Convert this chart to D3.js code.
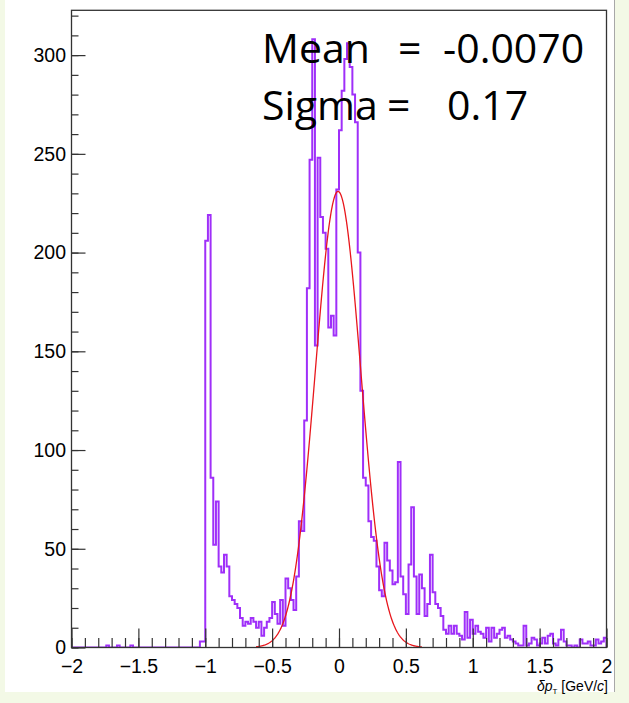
<!DOCTYPE html>
<html><head><meta charset="utf-8">
<script src="https://cdn.jsdelivr.net/npm/d3@7/dist/d3.min.js"></script>
<style>body{margin:0;background:#f3f9e6}svg{display:block}</style>
</head><body><svg id="c" width="629" height="703"></svg>
<script>
// ---- data ----
const binLow = -2, binWidth = 0.02;
const counts = [
 0,0,0,0,0,0,0,0,0,0, 0,0,0,1,0,0,0,1,0,0, 0,0,1,0,0,0,0,0,0,0,
 0,0,0,0,0,0,0,0,0,0, 0,0,0,0,0,0,0,0,3,3,
 206,219,86,52,74,41,38,47,41,26, 24,22,20,15,11,13,12,15,13,10,
 13,6,10,13,15,23,17,12,24,11, 35,30,24,19,36,64,59,115,182,247,
 308,153,248,218,210,202,162,168,158,232, 262,282,298,306,294,280,266,200,130,86,
 82,64,56,54,41,29,26,53,44,39, 32,33,94,36,27,17,42,71,36,17,
 37,30,16,22,47,28,22,20,16,9, 7,11,7,11,7,6,4,18,5,14,
 7,11,8,7,5,10,3,10,5,7, 9,10,5,6,4,3,2,1,1,11,
 1,2,5,4,1,2,5,2,6,7, 2,1,4,9,3,1,1,0,1,0,
 4,2,2,3,1,1,4,2,3,5
];
const xTicks = [-2,-1.5,-1,-0.5,0,0.5,1,1.5,2];
const xTickLabels = ["\u22122","\u22121.5","\u22121","\u22120.5","0","0.5","1","1.5","2"];
const yTicks = [0,50,100,150,200,250,300];
const yTickLabels = ["0","50","100","150","200","250","300"];
const fitMean = -0.0070, fitSigma = 0.17, fitAmplitude = 231;
const fitRange = [-0.62, 0.62];
const statNames = ["Mean","Sigma"];
const statValues = ["-0.0070","0.17"];

// ---- drawing ----
const svg = d3.select("#c");
svg.append("rect").attr("x",0).attr("y",0).attr("width",629).attr("height",703).attr("fill","#f3f9e6");
svg.append("rect").attr("x",5).attr("y",0).attr("width",609.5).attr("height",692).attr("fill","#ffffff");
svg.append("line").attr("x1",614.5).attr("x2",614.5).attr("y1",0).attr("y2",692).attr("stroke","#a8a8a8").attr("stroke-width",1);

const X0=71.5, X1=606.5, Y0=647.5, Y1=10.3;
const x = d3.scaleLinear().domain([-2,2]).range([X0,X1]);
const y = d3.scaleLinear().domain([0,322.7]).range([Y0,Y1]);

svg.append("clipPath").attr("id","pc").append("rect")
  .attr("x",X0).attr("y",Y1).attr("width",X1-X0).attr("height",Y0-Y1);

// histogram outline
const pts = [[binLow,0]];
counts.forEach((c,i)=>{
  const lo = binLow + i*binWidth, hi = lo + binWidth;
  pts.push([lo,c],[hi,c]);
});
pts.push([binLow+counts.length*binWidth,0]);
svg.append("path").attr("clip-path","url(#pc)")
  .attr("d", d3.line().x(d=>x(d[0])).y(d=>y(d[1]))(pts))
  .attr("fill","none").attr("stroke","#9f2ff9").attr("stroke-width",2);

// gaussian fit
const gx = d3.range(fitRange[0], fitRange[1]+1e-9, 0.004);
const gpts = gx.map(v=>[v, fitAmplitude*Math.exp(-0.5*Math.pow((v-fitMean)/fitSigma,2))]);
svg.append("path").attr("clip-path","url(#pc)")
  .attr("d", d3.line().x(d=>x(d[0])).y(d=>y(d[1]))(gpts))
  .attr("fill","none").attr("stroke","#e8161c").attr("stroke-width",1.3);

// frame
svg.append("rect").attr("x",X0).attr("y",Y1).attr("width",X1-X0).attr("height",Y0-Y1)
  .attr("fill","none").attr("stroke","#333").attr("stroke-width",1.3);

const font = "'Liberation Sans', Arial, Helvetica, sans-serif";
const xMinor = svg.append("g").attr("transform",`translate(0,${Y0})`)
  .call(d3.axisBottom(x).tickValues(d3.range(-20,21).map(v=>v/10)).tickSize(-9.5).tickFormat(""));
const xMajor = svg.append("g").attr("transform",`translate(0,${Y0})`)
  .call(d3.axisBottom(x).tickValues(xTicks).tickSize(-19).tickPadding(12)
    .tickFormat((d,i)=>xTickLabels[i]));
const yMinor = svg.append("g").attr("transform",`translate(${X0},0)`)
  .call(d3.axisLeft(y).tickValues(d3.range(0,321,10)).tickSize(-7).tickFormat(""));
const yMajor = svg.append("g").attr("transform",`translate(${X0},0)`)
  .call(d3.axisLeft(y).tickValues(yTicks).tickSize(-14).tickPadding(5.5)
    .tickFormat((d,i)=>yTickLabels[i]));
[xMinor,xMajor,yMinor,yMajor].forEach(g=>{
  g.select(".domain").remove();
  g.selectAll(".tick line").attr("stroke","#333").attr("stroke-width",1.2);
  g.selectAll("text").attr("fill","#000").style("font-family",font).style("font-size","19.5px");
});

// axis title
const t = svg.append("text").attr("x",608).attr("y",690.5).attr("text-anchor","end")
  .style("font-family",font).style("font-size","14px").attr("fill","#000");
t.append("tspan").style("font-style","italic").text("\u03B4p");
t.append("tspan").attr("dy",3).style("font-size","8px").text("T");
t.append("tspan").attr("dy",-3).text(" [GeV/");
t.append("tspan").style("font-style","italic").text("c");
t.append("tspan").text("]");

// stats text
const sFont = "'Open Sans', 'Noto Sans', sans-serif";
const rows = [{base:63, eq:398, val:443},{base:120, eq:387, val:447}];
statNames.forEach((n,i)=>{
  const r = rows[i];
  const g = svg.append("g").style("font-family",sFont).style("font-size","41px").attr("fill","#000");
  g.append("text").attr("x",262).attr("y",r.base).text(n);
  g.append("text").attr("x",r.eq).attr("y",r.base).text("=");
  g.append("text").attr("x",r.val).attr("y",r.base).text(statValues[i]);
});
</script></body></html>
